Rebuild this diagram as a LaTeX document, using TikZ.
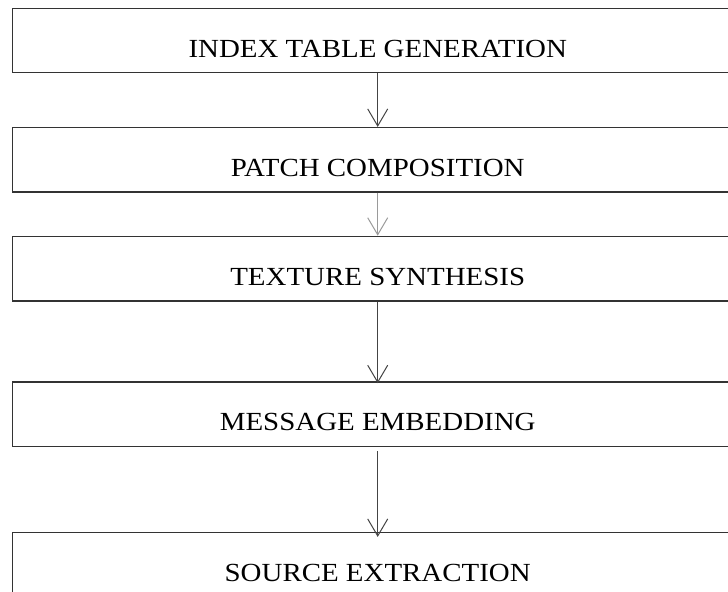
\documentclass[tikz,border=0pt]{standalone}
\usepackage{fontspec}
\setmainfont{Liberation Serif}
\usetikzlibrary{arrows.meta}
\definecolor{boxline}{HTML}{333333}
\definecolor{arrdark}{HTML}{444444}
\definecolor{arrlight}{HTML}{9A9A9A}
\begin{document}
\begin{tikzpicture}[x=1bp,y=-1bp,
  stage/.style={draw=boxline, line width=1.3bp, rectangle, minimum width=730bp,
    minimum height=64.5bp, inner sep=0pt, text height=33.6bp, text depth=0pt,
    font=\fontsize{26.1bp}{30bp}\selectfont, text=black},
  flow/.style={draw=arrdark, line width=1.1bp,
    -{Straight Barb[length=17bp,width=20bp,line width=1bp]}},
  flowlight/.style={flow, draw=arrlight}]
\useasboundingbox (0,0) rectangle (728,592);
\clip (0,0) rectangle (728,592);
\fill[white] (0,0) rectangle (728,592);
\node[stage] (s1) at (377.7,40.5) {\scalebox{1.108}[1]{INDEX TABLE GENERATION}};
\node[stage] (s2) at (377.7,159.8) {\scalebox{1.108}[1]{PATCH COMPOSITION}};
\node[stage] (s3) at (377.7,268.6) {\scalebox{1.108}[1]{TEXTURE SYNTHESIS}};
\node[stage] (s4) at (377.7,414.1) {\scalebox{1.108}[1]{MESSAGE EMBEDDING}};
\node[stage] (s5) at (377.7,564.8) {\scalebox{1.108}[1]{SOURCE EXTRACTION}};
\draw[flow] (s1.south) -- (s2.north);
\draw[flowlight] (s2.south) -- (s3.north);
\draw[flow, shorten >=-2bp] (s3.south) -- (s4.north);
\draw[flow, shorten <=4bp, shorten >=-5bp] (s4.south) -- (s5.north);
\end{tikzpicture}
\end{document}
